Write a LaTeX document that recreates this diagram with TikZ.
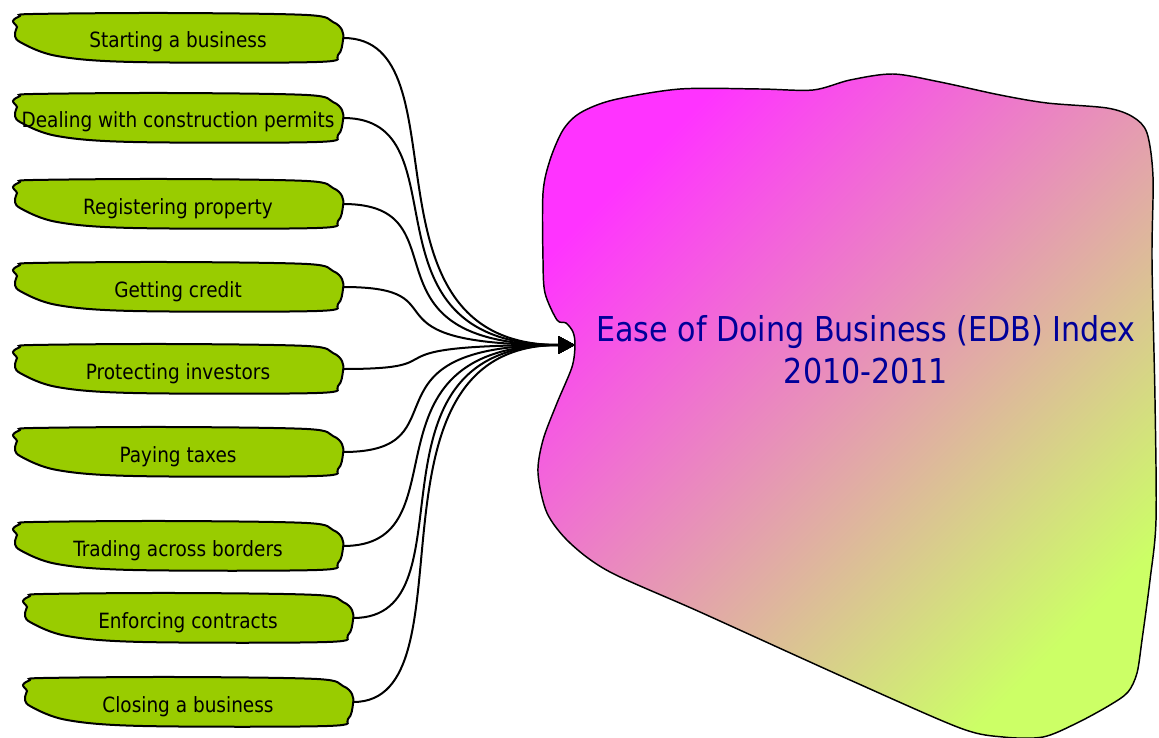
\documentclass[tikz,border=0pt]{standalone}
\usepackage{fontspec}
\setmainfont{DejaVu Sans}[FakeStretch=0.88]
\usepackage{xcolor}
\usetikzlibrary{arrows.meta}

\definecolor{leafgreen}{RGB}{153,204,0}
\definecolor{cloudpink}{RGB}{255,51,255}
\definecolor{cloudtan}{RGB}{226,196,184}
\definecolor{cloudlime}{RGB}{204,255,102}
\definecolor{indexblue}{RGB}{0,0,153}

\begin{document}
\begin{tikzpicture}[x=0.75pt,y=0.75pt,yscale=-1,xscale=1,
    leafline/.style={draw=black, line width=1.5pt, fill=leafgreen},
    leaf/.pic={\path[leafline, yscale=-1] plot[smooth cycle, tension=0.55] coordinates {(-158,-22) (-165,-17) (-161,-11) (-163,-5) (-158,4) (-121,18) (-45,24) (139,24) (160,17) (165,2) (164,-8) (155,-16) (129,-23) (-11,-25) (-145,-24)};},
    factor/.style={minimum width=247.5pt, minimum height=36.75pt, inner sep=0pt, text height=19pt, text depth=4pt, font=\fontsize{15.75}{19}\selectfont},
    link/.style={line width=1.5pt, -{Triangle[length=12.5pt,width=13pt]}}]
    \useasboundingbox (0,0) rectangle (1159,738);

    %Shape: Cloud
    \draw [line width=1.1pt, top color=cloudpink, middle color=cloudtan, bottom color=cloudlime, shading angle=45] plot[smooth cycle, tension=0.5] coordinates {(580,113) (613,100) (680,89) (760,89) (813,90) (850,80) (893,74) (940,82) (1000,95) (1047,103) (1107,108) (1133,117) (1147,133) (1153,177) (1152,260) (1155,400) (1156,520) (1150,580) (1142,640) (1137,673) (1128,692) (1110,705) (1077,723) (1043,737) (1003,737) (960,728) (850,680) (700,612) (610,572) (570,543) (547,513) (538,473) (543,440) (557,403) (572,367) (575,345) (573,332) (566,323) (557,320) (545,293) (543,260) (543,193) (550,160) (563,130)};
    \coordinate (tip) at (575,345);

    % Text Node
    \node (index) at (866,350) [align=center, text=indexblue, font=\fontsize{25.7}{31.5}\selectfont] {Ease of Doing Business (EDB) Index\\2010-2011};

    %Shape: Leaves
    \pic at (178,38) {leaf};
    \pic at (178,118) {leaf};
    \pic at (178,204) {leaf};
    \pic at (178,287) {leaf};
    \pic at (178,369) {leaf};
    \pic at (178,452) {leaf};
    \pic at (178,546) {leaf};
    \pic at (188,618) {leaf};
    \pic at (188,702) {leaf};

    % Text Node
    \node[factor] (start) at (178,38) {Starting a business};
    % Text Node
    \node[factor] (permits) at (178,118) {Dealing with construction permits};
    % Text Node
    \node[factor] (property) at (178,204) {Registering property};
    % Text Node
    \node[factor] (credit) at (178,287) {Getting credit};
    % Text Node
    \node[factor] (investors) at (178,369) {Protecting investors};
    % Text Node
    \node[factor] (taxes) at (178,452) {Paying taxes};
    % Text Node
    \node[factor] (trading) at (178,546) {Trading across borders};
    % Text Node
    \node[factor] (contracts) at (188,618) {Enforcing contracts};
    % Text Node
    \node[factor] (closing) at (188,702) {Closing a business};

    %Curve Lines
    \draw[link] (start.east) .. controls +(125,0) and +(-225,0) .. (tip);
    \draw[link] (permits.east) .. controls +(125,0) and +(-225,0) .. (tip);
    \draw[link] (property.east) .. controls +(125,0) and +(-225,0) .. (tip);
    \draw[link] (credit.east) .. controls +(125,0) and +(-225,0) .. (tip);
    \draw[link] (investors.east) .. controls +(125,0) and +(-225,0) .. (tip);
    \draw[link] (taxes.east) .. controls +(125,0) and +(-225,0) .. (tip);
    \draw[link] (trading.east) .. controls +(125,0) and +(-225,0) .. (tip);
    \draw[link] (contracts.east) .. controls +(125,0) and +(-225,0) .. (tip);
    \draw[link] (closing.east) .. controls +(125,0) and +(-225,0) .. (tip);

\end{tikzpicture}
\end{document}
